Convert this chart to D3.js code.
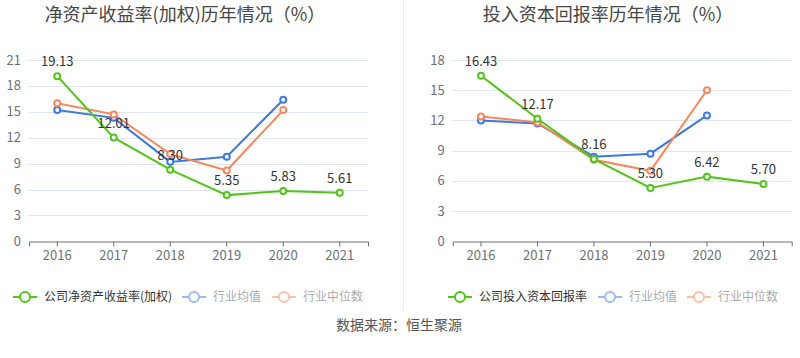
<!DOCTYPE html>
<html><head><meta charset="utf-8">
<script src="https://cdn.jsdelivr.net/npm/d3@7/dist/d3.min.js"></script>
<style>body{margin:0;background:#fff;font-family:"Noto Sans CJK SC","Noto Sans",sans-serif;}</style>
</head><body><svg id="c" width="800" height="358"></svg>
<script>
const years = ["2016","2017","2018","2019","2020","2021"];
const roeCompany = [19.13, 12.01, 8.30, 5.35, 5.83, 5.61];
const roeMean = [15.2, 14.3, 9.2, 9.8, 16.4];
const roeMedian = [16.0, 14.7, 10.1, 8.2, 15.2];
const roicCompany = [16.43, 12.17, 8.16, 5.30, 6.42, 5.70];
const roicMean = [12.0, 11.7, 8.4, 8.7, 12.5];
const roicMedian = [12.4, 11.8, 8.1, 7.0, 15.0];
const roeTicks = [0,3,6,9,12,15,18,21];
const roicTicks = [0,3,6,9,12,15,18];
const titles = ["净资产收益率(加权)历年情况（%）", "投入资本回报率历年情况（%）"];
const legendNames = [["公司净资产收益率(加权)","行业均值","行业中位数"],["公司投入资本回报率","行业均值","行业中位数"]];
const source = "数据来源：恒生聚源";

const GREEN="#52c41a", BLUE="#3d78e3", ORANGE="#f6875a";
const svg = d3.select("#c");
const font = '"Noto Sans CJK SC","Noto Sans",sans-serif';

svg.append("line").attr("x1",403.5).attr("x2",403.5).attr("y1",0).attr("y2",312)
  .attr("stroke","#eeeeee").attr("stroke-width",1);

function panel(cfg){
  const g = svg.append("g");
  const x = d3.scaleBand().domain(years).range([cfg.x0, cfg.x1]).padding(0);
  const y = d3.scaleLinear().domain([0, cfg.max]).range([241.3, 60]);
  const cx = d => x(d) + x.bandwidth()/2;
  g.selectAll(".grid").data(cfg.ticks.filter(t=>t>0)).enter().append("line")
    .attr("x1",cfg.x0).attr("x2",cfg.x1).attr("y1",d=>Math.round(y(d))+0.5).attr("y2",d=>Math.round(y(d))+0.5)
    .attr("stroke","#e0e6f1").attr("stroke-width",1);
  g.selectAll(".yl").data(cfg.ticks).enter().append("text")
    .attr("x",cfg.x0-8).attr("y",d=>y(d)).attr("dy","0.35em").attr("text-anchor","end")
    .attr("font-size",13).attr("fill","#6e7079").attr("font-family",font).text(d=>d);
  const ax = g.append("g").attr("transform",`translate(0,${Math.round(y(0))+0.5})`)
    .call(d3.axisBottom(x).tickSize(5).tickPadding(4));
  ax.select(".domain").attr("stroke","#6e7079");
  ax.selectAll(".tick line").attr("stroke","#6e7079");
  ax.selectAll(".tick text").attr("font-size",13).attr("fill","#6e7079").attr("font-family",font);
  const series = [
    {v:cfg.mean, c:BLUE},
    {v:cfg.median, c:ORANGE},
    {v:cfg.company, c:GREEN}
  ];
  const line = d3.line().x((d,i)=>cx(years[i])).y(d=>y(d));
  series.forEach(s=>{
    g.append("path").datum(s.v).attr("d",line).attr("fill","none")
      .attr("stroke",s.c).attr("stroke-width",2);
    g.selectAll(null).data(s.v).enter().append("circle")
      .attr("cx",(d,i)=>cx(years[i])).attr("cy",d=>y(d)).attr("r",3)
      .attr("fill","#fff").attr("stroke",s.c).attr("stroke-width",2);
  });
  g.selectAll(".lbl").data(cfg.company).enter().append("text")
    .attr("x",(d,i)=>cx(years[i])).attr("y",d=>y(d)-10).attr("text-anchor","middle")
    .attr("font-size",13).attr("fill","#333").attr("font-family",font).text(d=>d.toFixed(2));
  svg.append("text").attr("x",cfg.tx).attr("y",21).attr("text-anchor","middle")
    .attr("font-size",18).attr("fill","#464646").attr("font-family",font).text(cfg.title);
  const cols = [GREEN, "#9dbcf3", "#fbc0a8"];
  const tcols = ["#333", "#aaa", "#aaa"];
  cfg.legend.forEach((name,i)=>{
    const lx = cfg.lx[i];
    g.append("line").attr("x1",lx).attr("x2",lx+24).attr("y1",297).attr("y2",297)
      .attr("stroke",cols[i]).attr("stroke-width",2);
    g.append("circle").attr("cx",lx+12).attr("cy",297).attr("r",5)
      .attr("fill","#fff").attr("stroke",cols[i]).attr("stroke-width",2);
    g.append("text").attr("x",lx+31).attr("y",297).attr("dy","0.35em")
      .attr("font-size",12).attr("fill",tcols[i]).attr("font-family",font).text(name);
  });
}

panel({x0:29, x1:368, max:21, ticks:roeTicks, company:roeCompany, mean:roeMean, median:roeMedian,
  title:titles[0], tx:185, legend:legendNames[0], lx:[13,182,272]});
panel({x0:452.7, x1:791.7, max:18, ticks:roicTicks, company:roicCompany, mean:roicMean, median:roicMedian,
  title:titles[1], tx:608, legend:legendNames[1], lx:[448,598,687]});

svg.append("text").attr("x",399).attr("y",325).attr("dy","0.35em").attr("text-anchor","middle")
  .attr("font-size",14).attr("fill","#555").attr("font-family",font).text(source);
</script></body></html>
